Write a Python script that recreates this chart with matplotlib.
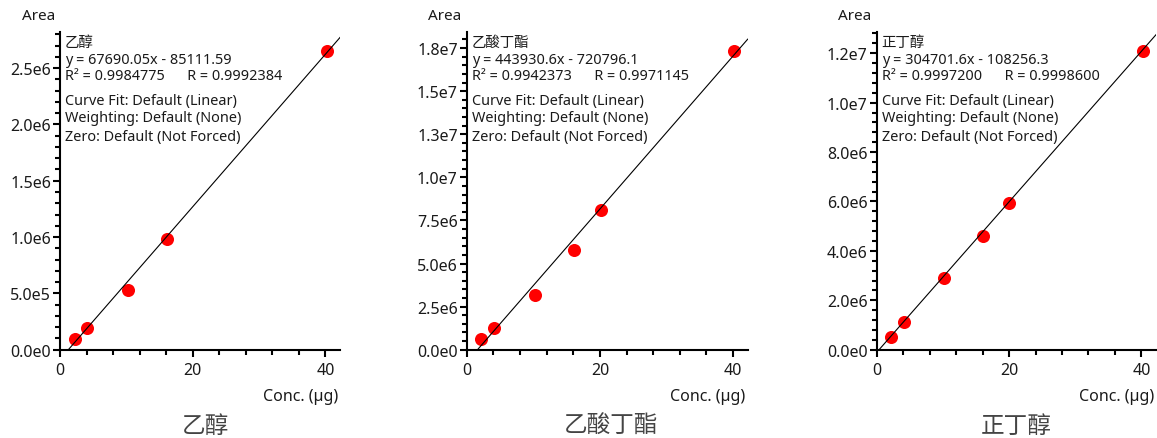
import matplotlib
matplotlib.use("Agg")
import matplotlib.pyplot as plt
from matplotlib.ticker import FixedLocator, MultipleLocator

plt.rcParams['font.family'] = ['Noto Sans', 'Noto Sans CJK SC', 'DejaVu Sans']

# Calibration data: concentration (µg) vs. peak area
compounds = ["乙醇", "乙酸丁酯", "正丁醇"]

conc_ethanol = [2.2, 4.1, 10.2, 16.1, 40.2]
area_ethanol = [95e3, 190e3, 533e3, 983e3, 2.65e6]

conc_butyl_acetate = [2.2, 4.1, 10.2, 16.1, 20.1, 40.2]
area_butyl_acetate = [0.62e6, 1.28e6, 3.17e6, 5.77e6, 8.09e6, 1.731e7]

conc_butanol = [2.2, 4.1, 10.1, 16.0, 20.0, 40.2]
area_butanol = [0.53e6, 1.13e6, 2.90e6, 4.62e6, 5.93e6, 1.208e7]

# Linear fit results
slopes = [67690.05, 443930.6, 304701.6]
intercepts = [-85111.59, -720796.1, -108256.3]
equations = ["y = 67690.05x - 85111.59", "y = 443930.6x - 720796.1", "y = 304701.6x - 108256.3"]
r2_values = ["0.9984775", "0.9942373", "0.9997200"]
r_values = ["0.9992384", "0.9971145", "0.9998600"]

# Y ticks and labels
yticks_ethanol = [0, 5e5, 1.0e6, 1.5e6, 2.0e6, 2.5e6]
ylabels_ethanol = ["0.0e0", "5.0e5", "1.0e6", "1.5e6", "2.0e6", "2.5e6"]
yticks_butyl_acetate = [0, 2.5e6, 5.0e6, 7.5e6, 1.0e7, 1.25e7, 1.5e7, 1.75e7]
ylabels_butyl_acetate = ["0.0e0", "2.5e6", "5.0e6", "7.5e6", "1.0e7", "1.3e7", "1.5e7", "1.8e7"]
yticks_butanol = [0, 2e6, 4e6, 6e6, 8e6, 1.0e7, 1.2e7]
ylabels_butanol = ["0.0e0", "2.0e6", "4.0e6", "6.0e6", "8.0e6", "1.0e7", "1.2e7"]

xticks = [0, 20, 40]
xticklabels = ["0", "20", "40"]

W, H = 1157, 439
fig = plt.figure(figsize=(W / 100, H / 100), dpi=100)
fig.patch.set_facecolor("white")

bottom_px, top_px = 350.7, 33.0
panels = [
    dict(left=60.0, right=340.0, conc=conc_ethanol, area=area_ethanol,
         yticks=yticks_ethanol, ylabels=ylabels_ethanol, ymax=2.82e6, yminor=1e5, title_x=206),
    dict(left=466.7, right=747.7, conc=conc_butyl_acetate, area=area_butyl_acetate,
         yticks=yticks_butyl_acetate, ylabels=ylabels_butyl_acetate, ymax=1.843e7, yminor=5e5, title_x=611),
    dict(left=876.7, right=1156.0, conc=conc_butanol, area=area_butanol,
         yticks=yticks_butanol, ylabels=ylabels_butanol, ymax=1.286e7, yminor=4e5, title_x=1016),
]

xmax = 42.2
text_color = "#1a1a1a"

for i, p in enumerate(panels):
    ax = fig.add_axes([p["left"] / W, 1 - bottom_px / H,
                       (p["right"] - p["left"]) / W, (bottom_px - top_px) / H])
    ax.set_xlim(0, xmax)
    ax.set_ylim(0, p["ymax"])

    # data points
    ax.plot(p["conc"], p["area"], linestyle="none", marker="o", markersize=9.4,
            color="#ff0000", markeredgewidth=0, zorder=2)
    # regression line
    xs = [0, xmax]
    ys = [slopes[i] * x + intercepts[i] for x in xs]
    ax.plot(xs, ys, color="black", linewidth=0.8, zorder=3)

    for side in ("top", "right"):
        ax.spines[side].set_visible(False)
    for side in ("left", "bottom"):
        ax.spines[side].set_linewidth(1.5)
        ax.spines[side].set_color("black")

    ax.xaxis.set_major_locator(FixedLocator(xticks))
    ax.set_xticklabels(xticklabels)
    ax.xaxis.set_minor_locator(MultipleLocator(4))
    ax.yaxis.set_major_locator(FixedLocator(p["yticks"]))
    ax.set_yticklabels(p["ylabels"])
    ax.yaxis.set_minor_locator(MultipleLocator(p["yminor"]))

    ax.tick_params(axis="both", which="major", length=5, width=1.5, color="black",
                   labelsize=11.5, labelcolor=text_color)
    ax.tick_params(axis="both", which="minor", length=3.5, width=1.5, color="black")
    ax.tick_params(axis="y", which="major", pad=1.5)
    ax.tick_params(axis="x", which="major", pad=4)

    ax.annotate("Area", xy=(0, 1), xycoords="axes fraction", xytext=(-5, 16),
                textcoords="offset pixels", ha="right", va="center", fontsize=11,
                color=text_color, annotation_clip=False)
    ax.annotate("Conc. (µg)", xy=(1, 0), xycoords="axes fraction", xytext=(-2, -46),
                textcoords="offset pixels", ha="right", va="center", fontsize=11.5,
                color=text_color, annotation_clip=False)

    info = [
        (compounds[i], -10),
        (equations[i], -27),
        (f"R² = {r2_values[i]}      R = {r_values[i]}", -44),
        ("Curve Fit: Default (Linear)", -69),
        ("Weighting: Default (None)", -86),
        ("Zero: Default (Not Forced)", -104),
    ]
    for txt, dy in info:
        ax.annotate(txt, xy=(0, 1), xycoords="axes fraction", xytext=(5, dy),
                    textcoords="offset pixels", ha="left", va="center", fontsize=10.4,
                    color=text_color, annotation_clip=False)

    fig.text(p["title_x"] / W, 1 - 427 / H, compounds[i], ha="center", va="center",
             fontsize=17, color="#444444")

fig.savefig("out.png", dpi=100, facecolor="white")
